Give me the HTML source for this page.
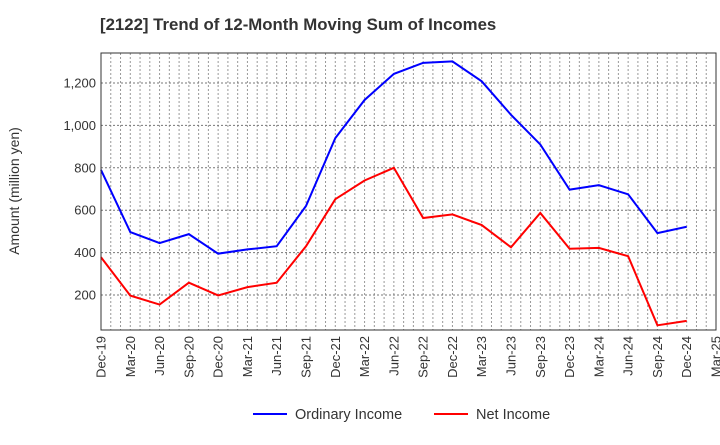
<!DOCTYPE html>
<html><head><meta charset="utf-8"><style>
body{margin:0;background:#fff;font-family:"Liberation Sans",sans-serif}
</style></head><body>
<svg width="720" height="440" xmlns="http://www.w3.org/2000/svg" font-family="Liberation Sans, sans-serif">
<text x="100" y="30" font-size="16.8" font-weight="bold" fill="#333">[2122]  Trend of 12-Month Moving Sum of Incomes</text>
<g id="grid"></g>
<g id="yaxis"></g>
<g id="xaxis"></g>
<g id="series"></g>
<rect x="101" y="53" width="615" height="277" fill="none" stroke="#333" stroke-width="1"/>
<text transform="translate(19,191) rotate(-90)" text-anchor="middle" font-size="14" fill="#333">Amount (million yen)</text>
<g>
<line x1="253" y1="414" x2="287" y2="414" stroke="#0000ff" stroke-width="2"/>
<text x="295" y="419" font-size="14.5" fill="#333">Ordinary Income</text>
<line x1="434" y1="414" x2="468" y2="414" stroke="#ff0000" stroke-width="2"/>
<text x="476" y="419" font-size="14.5" fill="#333">Net Income</text>
</g>
</svg>
<script>
const categories=["Dec-19","Mar-20","Jun-20","Sep-20","Dec-20","Mar-21","Jun-21","Sep-21","Dec-21","Mar-22","Jun-22","Sep-22","Dec-22","Mar-23","Jun-23","Sep-23","Dec-23","Mar-24","Jun-24","Sep-24","Dec-24","Mar-25"];
const ordinaryIncome=[790,497,445,487,395,415,430,620,940,1120,1243,1295,1302,1208,1050,910,697,718,675,492,522];
const netIncome=[378,197,155,258,198,237,258,430,652,740,800,563,580,530,425,587,418,422,383,57,78];
const yTicks=[200,400,600,800,1000,1200];
const NS="http://www.w3.org/2000/svg";
const L=101,R=716,T=53,B=330;
const x=i=>L+i*(R-L)/(categories.length-1);
const y=v=>337.4-v*(42.4/200);
function mk(tag,attrs,parent){const e=document.createElementNS(NS,tag);for(const k in attrs)e.setAttribute(k,attrs[k]);parent.appendChild(e);return e;}
const grid=document.getElementById('grid'),ya=document.getElementById('yaxis'),xa=document.getElementById('xaxis'),se=document.getElementById('series');
for(let m=1;m<(categories.length-1)*3;m++){const xx=L+m*(R-L)/((categories.length-1)*3);
const g=mk('line',{x1:xx,x2:xx,y1:T,y2:B,stroke:'#999','stroke-dasharray':'2,2','stroke-width':1},grid);

}
yTicks.forEach(v=>{const g=mk('line',{x1:L,x2:R,y1:y(v),y2:y(v),stroke:'#777','stroke-dasharray':'2,2','stroke-width':1},grid);


const t=mk('text',{x:L-5,y:y(v)+4.5,'text-anchor':'end','font-size':13,fill:'#333'},ya);t.textContent=v.toLocaleString('en-US');

});
categories.forEach((c,i)=>{const t=mk('text',{transform:`translate(${x(i)+4.5},${B+6}) rotate(-90)`,'text-anchor':'end','font-size':13,fill:'#333'},xa);t.textContent=c;

});
function line(data,color,name){const p=mk('polyline',{points:data.map((v,i)=>x(i)+','+y(v)).join(' '),fill:'none',stroke:color,'stroke-width':2},se);

}
line(ordinaryIncome,'#0000ff','ordinary-income-line');
line(netIncome,'#ff0000','net-income-line');
</script>
</body></html>
